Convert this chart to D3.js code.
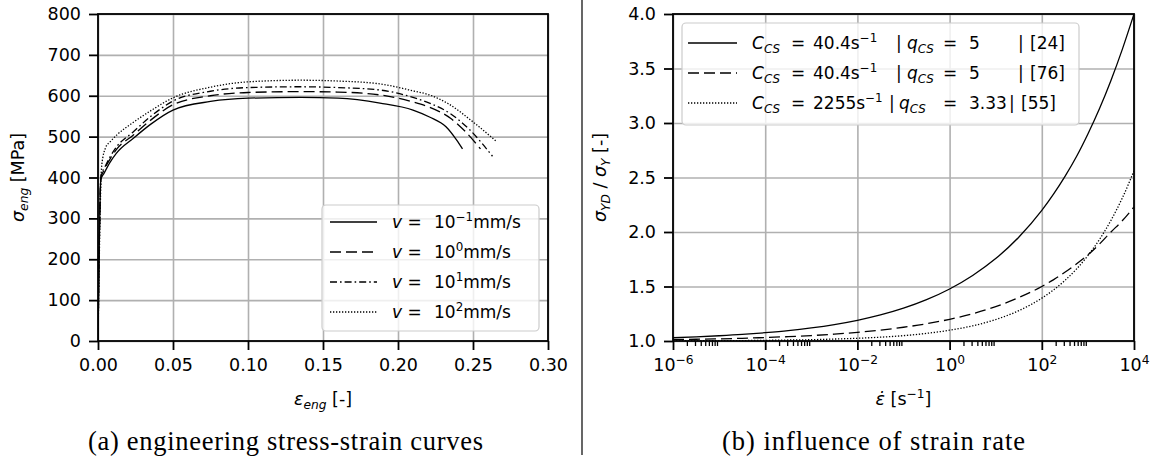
<!DOCTYPE html>
<html lang="en">
<head>
<meta charset="UTF-8">
<title>Stress-strain curves and strain rate influence</title>
<style>
    body { margin: 0; background: #fff; }
    svg { display: block; }
    text { font-family: "DejaVu Sans", sans-serif; white-space: pre; fill: #000; }
</style>
</head>
<body>
<script src="https://d3js.org/d3.v7.min.js"></script>
<script>
    // ---------- data ----------
    // (a) engineering stress-strain curves, one pair of arrays per velocity
    const speedExp = ["\u22121", "0", "1", "2"];

    const strainV1 = [0, 0.0019, 0.004, 0.008, 0.0122, 0.0236, 0.035, 0.05, 0.075, 0.10, 0.135, 0.16, 0.188, 0.21, 0.221, 0.232, 0.239, 0.243];
    const stressV1 = [0, 395, 410, 437, 459, 496, 530, 565, 586, 594, 596, 594, 582, 565, 548, 524, 492, 470];

    const strainV2 = [0, 0.002, 0.004, 0.008, 0.0122, 0.0236, 0.035, 0.05, 0.075, 0.10, 0.135, 0.16, 0.188, 0.21, 0.221, 0.235, 0.245, 0.255];
    const stressV2 = [0, 400, 418, 445, 468, 504, 540, 578, 600, 608, 610, 609, 602, 585, 572, 545, 512, 470];

    const strainV3 = [0, 0.002, 0.0045, 0.008, 0.0122, 0.0236, 0.035, 0.05, 0.075, 0.10, 0.135, 0.16, 0.188, 0.21, 0.221, 0.235, 0.248, 0.263];
    const stressV3 = [0, 405, 425, 450, 474, 512, 549, 587, 611, 620, 622, 620, 614, 596, 582, 556, 516, 452];

    const strainV4 = [0, 0.0025, 0.0053, 0.008, 0.0122, 0.0236, 0.035, 0.05, 0.075, 0.10, 0.135, 0.16, 0.188, 0.21, 0.221, 0.2333, 0.25, 0.266];
    const stressV4 = [0, 430, 475, 487, 503, 535, 563, 595, 621, 634, 638, 636, 629, 612, 602, 581, 536, 487];

    const strainTicks = [0, 0.05, 0.10, 0.15, 0.20, 0.25, 0.30];
    const stressTicks = [0, 100, 200, 300, 400, 500, 600, 700, 800];

    // (b) influence of strain rate: log10 of strain rate and stress ratio per source
    const rateExp = [-6, -5.5, -5, -4.5, -4, -3.5, -3, -2.5, -2, -1.5, -1, -0.5, 0, 0.5, 1, 1.5, 2, 2.25, 2.5, 2.75, 3, 3.25, 3.5, 3.75, 4];
    const ratio24 = [1.030, 1.038, 1.048, 1.060, 1.076, 1.095, 1.120, 1.151, 1.190, 1.239, 1.301, 1.379, 1.477, 1.601, 1.756, 1.952, 2.198, 2.345, 2.508, 2.69, 2.899, 3.13, 3.39, 3.68, 4.0];
    const ratio76 = [1.013, 1.016, 1.020, 1.025, 1.032, 1.040, 1.050, 1.063, 1.079, 1.100, 1.126, 1.158, 1.199, 1.250, 1.316, 1.398, 1.500, 1.561, 1.630, 1.706, 1.790, 1.889, 2.0, 2.105, 2.23];
    const ratio55 = [1.002, 1.002, 1.003, 1.004, 1.006, 1.009, 1.012, 1.018, 1.025, 1.035, 1.049, 1.070, 1.099, 1.139, 1.197, 1.278, 1.393, 1.467, 1.555, 1.659, 1.784, 1.931, 2.107, 2.315, 2.56];

    const cValues = ["40.4", "40.4", "2255"];
    const qValues = ["5", "5", "3.33"];
    const refs = ["[24]", "[76]", "[55]"];

    const rateTickExp = [-6, -4, -2, 0, 2, 4];
    const minorSubs = [2, 3, 4, 5, 6, 7, 8, 9];
    const ratioTicks = [1.0, 1.5, 2.0, 2.5, 3.0, 3.5, 4.0];

    // ---------- layout ----------
    const width = 1162;
    const height = 461;
    const fs = 17.5;
    const boxA = {left: 98, right: 548, top: 14, bottom: 341};
    const boxB = {left: 673, right: 1134, top: 14, bottom: 341};
    const gridColor = "#b0b0b0";
    const styles = [
        {dash: null},
        {dash: "11,5"},
        {dash: "7,3,1.6,3"},
        {dash: "1.3,1.7"}
    ];

    const svg = d3.select("body").append("svg")
        .attr("width", width)
        .attr("height", height);

    // write text with italic / sub / superscript parts
    function mathText(sel, parts, size) {
        let shift = 0;
        parts.forEach(p => {
            const ts = sel.append("tspan").text(p.t);
            const target = p.sup ? -0.42 * size : (p.sub ? 0.25 * size : 0);
            if (target !== shift) ts.attr("dy", target - shift);
            shift = target;
            if (p.sup || p.sub) ts.attr("font-size", size * 0.7);
            if (p.it) ts.attr("font-style", "italic");
            if (p.x != null) ts.attr("x", p.x);
        });
    }

    function styleAxis(g, tickWidth) {
        g.select(".domain").remove();
        g.selectAll(".tick line").attr("stroke", "#000").attr("stroke-width", tickWidth);
        g.selectAll(".tick text").attr("font-size", fs).attr("fill", "#000");
    }

    function styleGrid(g) {
        g.select(".domain").remove();
        g.selectAll(".tick line").attr("stroke", gridColor).attr("stroke-width", 1.6);
        g.selectAll(".tick text").remove();
    }

    // ---------- (a) ----------
    const xA = d3.scaleLinear().domain([0, 0.30]).range([boxA.left, boxA.right]);
    const yA = d3.scaleLinear().domain([0, 800]).range([boxA.bottom, boxA.top]);

    svg.append("g")
        .attr("transform", `translate(0,${boxA.bottom})`)
        .call(d3.axisBottom(xA).tickValues(strainTicks).tickSize(-(boxA.bottom - boxA.top)).tickFormat(""))
        .call(styleGrid);
    svg.append("g")
        .attr("transform", `translate(${boxA.left},0)`)
        .call(d3.axisLeft(yA).tickValues(stressTicks).tickSize(-(boxA.right - boxA.left)).tickFormat(""))
        .call(styleGrid);

    svg.append("clipPath").attr("id", "clipA").append("rect")
        .attr("x", boxA.left).attr("y", boxA.top)
        .attr("width", boxA.right - boxA.left).attr("height", boxA.bottom - boxA.top);

    const lineA = d3.line()
        .x(d => xA(d[0]))
        .y(d => yA(d[1]))
        .curve(d3.curveMonotoneX);

    const seriesA = [
        d3.zip(strainV1, stressV1),
        d3.zip(strainV2, stressV2),
        d3.zip(strainV3, stressV3),
        d3.zip(strainV4, stressV4)
    ];
    seriesA.forEach((s, i) => {
        svg.append("path")
            .datum(s)
            .attr("clip-path", "url(#clipA)")
            .attr("fill", "none")
            .attr("stroke", "#000")
            .attr("stroke-width", 1.3)
            .attr("stroke-dasharray", styles[i].dash)
            .attr("d", lineA);
    });

    svg.append("rect")
        .attr("x", boxA.left).attr("y", boxA.top)
        .attr("width", boxA.right - boxA.left).attr("height", boxA.bottom - boxA.top)
        .attr("fill", "none").attr("stroke", "#000").attr("stroke-width", 1.8);

    svg.append("g")
        .attr("transform", `translate(0,${boxA.bottom})`)
        .call(d3.axisBottom(xA).tickValues(strainTicks).tickFormat(d3.format(".2f")).tickSize(9).tickPadding(9))
        .call(g => styleAxis(g, 1.8));
    svg.append("g")
        .attr("transform", `translate(${boxA.left},0)`)
        .call(d3.axisLeft(yA).tickValues(stressTicks).tickFormat(d3.format("d")).tickSize(9).tickPadding(8))
        .call(g => styleAxis(g, 1.8));

    // axis labels (a)
    const xLabA = svg.append("text")
        .attr("x", (boxA.left + boxA.right) / 2).attr("y", 405)
        .attr("text-anchor", "middle").attr("font-size", fs);
    mathText(xLabA, [{t: "\u03b5", it: true}, {t: "eng", it: true, sub: true}, {t: " [-]"}], fs);

    const yLabA = svg.append("text")
        .attr("transform", `translate(24,${(boxA.top + boxA.bottom) / 2}) rotate(-90)`)
        .attr("text-anchor", "middle").attr("font-size", fs);
    mathText(yLabA, [{t: "\u03c3", it: true}, {t: "eng", it: true, sub: true}, {t: " [MPa]"}], fs);

    // legend (a)
    const legA = {left: 322, right: 539, top: 205, rowY: 222, step: 30};
    svg.append("rect")
        .attr("x", legA.left).attr("y", legA.top)
        .attr("width", legA.right - legA.left)
        .attr("height", legA.rowY + legA.step * (speedExp.length - 1) + 19 - legA.top)
        .attr("rx", 4)
        .attr("fill", "#fff").attr("fill-opacity", 0.8)
        .attr("stroke", "#cccccc").attr("stroke-width", 1.2);
    speedExp.forEach((e, i) => {
        const cy = legA.rowY + i * legA.step;
        svg.append("line")
            .attr("x1", 330).attr("x2", 377).attr("y1", cy).attr("y2", cy)
            .attr("stroke", "#000").attr("stroke-width", 1.3)
            .attr("stroke-dasharray", styles[i].dash);
        const t = svg.append("text").attr("x", 392).attr("y", cy + 6).attr("font-size", 17);
        mathText(t, [{t: "v", it: true}, {t: " ="}, {t: "10", x: 434}, {t: e, sup: true}, {t: "mm/s"}], 17);
    });

    // ---------- (b) ----------
    const xB = d3.scaleLog().domain([1e-6, 1e4]).range([boxB.left, boxB.right]);
    const yB = d3.scaleLinear().domain([1, 4]).range([boxB.bottom, boxB.top]);
    const rateTicks = rateTickExp.map(e => Math.pow(10, e));
    const minorTicks = rateTickExp.slice(0, -1).flatMap(e => minorSubs.map(s => s * Math.pow(10, e)));

    svg.append("g")
        .attr("transform", `translate(0,${boxB.bottom})`)
        .call(d3.axisBottom(xB).tickValues(rateTicks).tickSize(-(boxB.bottom - boxB.top)).tickFormat(""))
        .call(styleGrid);
    svg.append("g")
        .attr("transform", `translate(${boxB.left},0)`)
        .call(d3.axisLeft(yB).tickValues(ratioTicks).tickSize(-(boxB.right - boxB.left)).tickFormat(""))
        .call(styleGrid);

    svg.append("clipPath").attr("id", "clipB").append("rect")
        .attr("x", boxB.left).attr("y", boxB.top)
        .attr("width", boxB.right - boxB.left).attr("height", boxB.bottom - boxB.top);

    const lineB = d3.line()
        .x(d => xB(Math.pow(10, d[0])))
        .y(d => yB(d[1]))
        .curve(d3.curveMonotoneX);

    const stylesB = [styles[0], styles[1], styles[3]];
    [ratio24, ratio76, ratio55].forEach((r, i) => {
        svg.append("path")
            .datum(d3.zip(rateExp, r))
            .attr("clip-path", "url(#clipB)")
            .attr("fill", "none")
            .attr("stroke", "#000")
            .attr("stroke-width", 1.3)
            .attr("stroke-dasharray", stylesB[i].dash)
            .attr("d", lineB);
    });

    svg.append("rect")
        .attr("x", boxB.left).attr("y", boxB.top)
        .attr("width", boxB.right - boxB.left).attr("height", boxB.bottom - boxB.top)
        .attr("fill", "none").attr("stroke", "#000").attr("stroke-width", 1.8);

    svg.append("g")
        .attr("transform", `translate(0,${boxB.bottom})`)
        .call(d3.axisBottom(xB).tickValues(minorTicks).tickFormat("").tickSize(5))
        .call(g => styleAxis(g, 1.3));
    svg.append("g")
        .attr("transform", `translate(0,${boxB.bottom})`)
        .call(d3.axisBottom(xB).tickValues(rateTicks).tickFormat("").tickSize(9).tickPadding(9))
        .call(g => styleAxis(g, 1.8))
        .call(g => g.selectAll(".tick text").each(function (d) {
            const e = Math.round(Math.log10(d));
            const t = d3.select(this).text("");
            mathText(t, [{t: "10"}, {t: e < 0 ? "\u2212" + (-e) : String(e), sup: true}], fs);
        }));
    svg.append("g")
        .attr("transform", `translate(${boxB.left},0)`)
        .call(d3.axisLeft(yB).tickValues(ratioTicks).tickFormat(d3.format(".1f")).tickSize(9).tickPadding(8))
        .call(g => styleAxis(g, 1.8));

    // axis labels (b)
    const xLabB = svg.append("text")
        .attr("x", (boxB.left + boxB.right) / 2).attr("y", 405)
        .attr("text-anchor", "middle").attr("font-size", fs);
    mathText(xLabB, [{t: "\u03b5\u0307", it: true}, {t: " [s"}, {t: "\u22121", sup: true}, {t: "]"}], fs);

    const yLabB = svg.append("text")
        .attr("transform", `translate(606,${(boxB.top + boxB.bottom) / 2}) rotate(-90)`)
        .attr("text-anchor", "middle").attr("font-size", fs);
    mathText(yLabB, [{t: "\u03c3", it: true}, {t: "YD", it: true, sub: true}, {t: " / "},
        {t: "\u03c3", it: true}, {t: "Y", it: true, sub: true}, {t: " [-]"}], fs);

    // legend (b)
    const legB = {left: 682, right: 1079, top: 23, rowY: 43, step: 30};
    svg.append("rect")
        .attr("x", legB.left).attr("y", legB.top)
        .attr("width", legB.right - legB.left)
        .attr("height", legB.rowY + legB.step * (refs.length - 1) + 22 - legB.top)
        .attr("rx", 4)
        .attr("fill", "#fff").attr("fill-opacity", 0.8)
        .attr("stroke", "#cccccc").attr("stroke-width", 1.2);
    refs.forEach((ref, i) => {
        const cy = legB.rowY + i * legB.step;
        svg.append("line")
            .attr("x1", 688).attr("x2", 737).attr("y1", cy).attr("y2", cy)
            .attr("stroke", "#000").attr("stroke-width", 1.3)
            .attr("stroke-dasharray", stylesB[i].dash);
        const wide = qValues[i].length > 1;
        const t = svg.append("text").attr("x", 752).attr("y", cy + 6).attr("font-size", 17);
        mathText(t, [
            {t: "C", it: true}, {t: "CS", it: true, sub: true},
            {t: "=", x: 791}, {t: cValues[i] + "s", x: 813}, {t: "\u22121", sup: true},
            {t: "|", x: wide ? 889 : 896}, {t: "q", it: true, x: wide ? 899 : 907}, {t: "CS", it: true, sub: true},
            {t: "=", x: 943}, {t: qValues[i], x: 969},
            {t: "|", x: wide ? 1009 : 1018}, {t: ref, x: wide ? 1021 : 1030}
        ], 17);
    });

    // ---------- divider and captions ----------
    svg.append("line")
        .attr("x1", 582).attr("x2", 582).attr("y1", 0).attr("y2", 455)
        .attr("stroke", "#000").attr("stroke-width", 1.2);

    svg.append("text")
        .attr("x", 88).attr("y", 450)
        .style("font-family", "'Liberation Serif', serif").attr("font-size", 26.5)
        .attr("textLength", 395).attr("lengthAdjust", "spacing")
        .text("(a) engineering stress-strain curves");
    svg.append("text")
        .attr("x", 722).attr("y", 450)
        .style("font-family", "'Liberation Serif', serif").attr("font-size", 26.5)
        .attr("textLength", 303).attr("lengthAdjust", "spacing")
        .text("(b) influence of strain rate");
</script>
</body>
</html>
